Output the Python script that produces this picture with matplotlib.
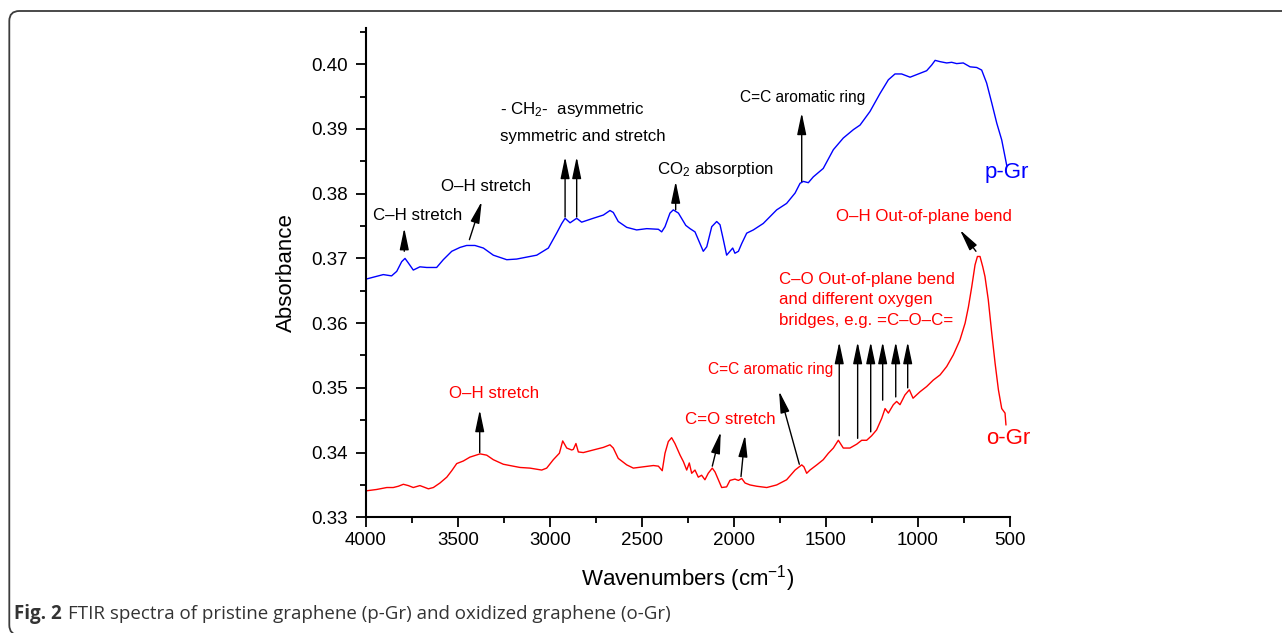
import numpy as np
import matplotlib
matplotlib.use("Agg")
import matplotlib.pyplot as plt
from matplotlib.patches import FancyBboxPatch
from matplotlib.ticker import MultipleLocator

plt.rcParams['font.family'] = ['Liberation Sans', 'DejaVu Sans']
plt.rcParams['mathtext.fontset'] = 'custom'
plt.rcParams['mathtext.rm'] = 'Liberation Sans'
plt.rcParams['mathtext.it'] = 'Liberation Sans:italic'

# pristine graphene (p-Gr) spectrum
p_gr_wn = [4000, 3960, 3906, 3861, 3833, 3806, 3788, 3770, 3743, 3707, 3670, 3616,
           3580, 3534, 3489, 3453, 3408, 3362, 3308, 3235, 3181, 3127, 3072, 3009,
           2964, 2936, 2918, 2891, 2855, 2828, 2765, 2710, 2674, 2656, 2629, 2583,
           2529, 2474, 2411, 2393, 2375, 2348, 2330, 2302, 2262, 2239, 2212, 2185,
           2167, 2148, 2121, 2094, 2076, 2058, 2040, 2022, 2007, 1995, 1976, 1958,
           1931, 1895, 1841, 1768, 1714, 1668, 1641, 1623, 1596, 1569, 1515, 1460,
           1406, 1351, 1315, 1261, 1206, 1161, 1125, 1089, 1043, 989, 953, 925,
           907, 880, 844, 817, 790, 754, 717, 681, 654, 627, 599, 572, 545, 527, 518]
p_gr_abs = [0.3668, 0.3671, 0.3675, 0.3673, 0.3680, 0.3695, 0.3700, 0.3693, 0.3682,
            0.3687, 0.3686, 0.3686, 0.3698, 0.3711, 0.3717, 0.3720, 0.3720, 0.3716,
            0.3705, 0.3698, 0.3699, 0.3702, 0.3705, 0.3716, 0.3739, 0.3754, 0.3762,
            0.3755, 0.3762, 0.3756, 0.3762, 0.3767, 0.3774, 0.3771, 0.3757, 0.3748,
            0.3744, 0.3746, 0.3745, 0.3741, 0.3749, 0.3770, 0.3775, 0.3770, 0.3751,
            0.3746, 0.3741, 0.3723, 0.3711, 0.3718, 0.3749, 0.3757, 0.3752, 0.3729,
            0.3705, 0.3711, 0.3716, 0.3708, 0.3711, 0.3723, 0.3739, 0.3744, 0.3754,
            0.3775, 0.3785, 0.3801, 0.3816, 0.3819, 0.3817, 0.3826, 0.3839, 0.3868,
            0.3886, 0.3899, 0.3906, 0.3927, 0.3955, 0.3976, 0.3985, 0.3985, 0.3980,
            0.3986, 0.3990, 0.3999, 0.4006, 0.4004, 0.4002, 0.4003, 0.4001, 0.4002,
            0.3996, 0.3995, 0.3991, 0.3971, 0.3940, 0.3909, 0.3883, 0.3857, 0.3844]

# oxidized graphene (o-Gr) spectrum
o_gr_wn = [3996, 3942, 3887, 3852, 3824, 3797, 3770, 3743, 3707, 3679, 3661, 3634,
           3598, 3561, 3534, 3507, 3471, 3435, 3380, 3344, 3308, 3254, 3200, 3163,
           3109, 3045, 3018, 2982, 2949, 2931, 2909, 2882, 2873, 2859, 2846, 2819,
           2765, 2710, 2674, 2656, 2629, 2583, 2547, 2493, 2438, 2411, 2390, 2375,
           2357, 2339, 2321, 2293, 2275, 2257, 2243, 2230, 2212, 2194, 2176, 2158,
           2140, 2118, 2103, 2085, 2067, 2040, 2022, 1995, 1976, 1958, 1940, 1913,
           1877, 1822, 1768, 1714, 1668, 1632, 1620, 1605, 1587, 1550, 1515, 1487,
           1460, 1433, 1406, 1370, 1333, 1306, 1279, 1252, 1225, 1197, 1179, 1161,
           1134, 1116, 1098, 1071, 1047, 1027, 989, 953, 917, 880, 844, 808, 772,
           744, 726, 708, 690, 677, 663, 648, 636, 618, 599, 581, 563, 545, 527, 522]
o_gr_abs = [0.3341, 0.3343, 0.3346, 0.3346, 0.3348, 0.3351, 0.3349, 0.3346, 0.3349,
            0.3346, 0.3344, 0.3346, 0.3353, 0.3362, 0.3372, 0.3383, 0.3387, 0.3393,
            0.3398, 0.3396, 0.3389, 0.3382, 0.3379, 0.3377, 0.3376, 0.3373, 0.3376,
            0.3389, 0.3399, 0.3418, 0.3407, 0.3404, 0.3405, 0.3414, 0.3401, 0.3400,
            0.3404, 0.3408, 0.3412, 0.3407, 0.3391, 0.3381, 0.3376, 0.3378, 0.3380,
            0.3379, 0.3372, 0.3399, 0.3417, 0.3423, 0.3414, 0.3396, 0.3386, 0.3373,
            0.3384, 0.3368, 0.3373, 0.3362, 0.3365, 0.3358, 0.3368, 0.3376, 0.3370,
            0.3358, 0.3346, 0.3347, 0.3357, 0.3359, 0.3357, 0.3360, 0.3353, 0.3350,
            0.3348, 0.3346, 0.3350, 0.3358, 0.3373, 0.3381, 0.3378, 0.3368, 0.3373,
            0.3381, 0.3389, 0.3399, 0.3407, 0.3419, 0.3407, 0.3407, 0.3413, 0.3419,
            0.3419, 0.3426, 0.3435, 0.3453, 0.3468, 0.3461, 0.3474, 0.3479, 0.3474,
            0.3489, 0.3497, 0.3484, 0.3494, 0.3502, 0.3512, 0.3520, 0.3533, 0.3551,
            0.3574, 0.3600, 0.3625, 0.3656, 0.3690, 0.3703, 0.3703, 0.3687, 0.3672,
            0.3636, 0.3584, 0.3538, 0.3497, 0.3468, 0.3461, 0.3443]

# band assignments: (text, text x, text y, [(tail x, tail y, head x, head y), ...])
black_notes = [
    ("C\u2013H stretch", 3962, 0.3767, [(3792, 0.3711, 3792, 0.3747)]),
    ("O\u2013H stretch", 3590, 0.3811, [(3438, 0.3729, 3371, 0.3788)]),
    ("CO$_2$ absorption", 2418, 0.3838, [(2317, 0.3775, 2317, 0.3819)]),
    ("C=C aromatic ring", 1967, 0.3948, [(1632, 0.3819, 1632, 0.3925)]),
]
red_notes = [
    ("O\u2013H stretch", 3549, 0.3492, [(3382, 0.3400, 3382, 0.3466)]),
    ("C=O stretch", 2266, 0.3451, [(2118, 0.3379, 2072, 0.3432),
                                   (1962, 0.3363, 1940, 0.3427)]),
    ("C=C aromatic ring", 2141, 0.3529, [(1645, 0.3382, 1755, 0.3495)]),
    ("O\u2013H Out-of-plane bend", 1446, 0.3764, [(685, 0.3711, 772, 0.3744)]),
]
ch2_lines = ["- CH$_2$-  asymmetric", "symmetric and stretch"]
ch2_arrow_x = [2918, 2855]
co_lines = ["C\u2013O Out-of-plane bend", "and different oxygen",
            "bridges, e.g. =C\u2013O\u2013C="]
co_arrow_x = [1428, 1328, 1257, 1192, 1121, 1056]
co_arrow_tail = [0.3426, 0.3422, 0.3432, 0.3481, 0.3486, 0.3500]

fig = plt.figure(figsize=(12.82, 6.33), dpi=100)
ax = fig.add_axes([366 / 1282, 1 - 517.3 / 633, 644 / 1282, 489.3 / 633])

ax.plot(p_gr_wn, p_gr_abs, color='#0000ff', lw=1.0)
ax.plot(o_gr_wn, o_gr_abs, color='#ff0000', lw=1.0)

ax.set_xlim(4000, 500)
ax.set_ylim(0.33, 0.4056)
ax.xaxis.set_major_locator(MultipleLocator(500))
ax.xaxis.set_minor_locator(MultipleLocator(250))
ax.yaxis.set_major_locator(MultipleLocator(0.01))
ax.yaxis.set_minor_locator(MultipleLocator(0.005))
ax.yaxis.set_major_formatter(matplotlib.ticker.FormatStrFormatter('%.2f'))
for s in ['top', 'right']:
    ax.spines[s].set_visible(False)
for s in ['left', 'bottom']:
    ax.spines[s].set_linewidth(1.5)
ax.tick_params(which='major', direction='out', length=7, width=1.3, labelsize=13.5)
ax.tick_params(axis='y', which='major', pad=6)
ax.tick_params(which='minor', direction='out', length=4, width=1.3)
ax.set_xlabel("Wavenumbers (cm$^{-1}$)", fontsize=16, labelpad=10)
ax.set_ylabel("Absorbance", fontsize=16, labelpad=10)

arrow = dict(arrowstyle='-|>,head_length=1.1,head_width=0.23', color='black',
             lw=1.0, shrinkA=0, shrinkB=0, mutation_scale=12)


def add_arrow(x0, y0, x1, y1):
    ax.annotate("", xy=(x1, y1), xytext=(x0, y0), arrowprops=arrow,
                annotation_clip=False)


for txt, tx, ty, arrows in black_notes:
    size = 11.2 if "aromatic" in txt else 12.2
    ax.text(tx, ty, txt, color='black', fontsize=size, ha='left', va='center')
    for a in arrows:
        add_arrow(*a)
for txt, tx, ty, arrows in red_notes:
    size = 11.2 if "aromatic" in txt else 12.2
    ax.text(tx, ty, txt, color='#ff0000', fontsize=size, ha='left', va='center')
    for a in arrows:
        add_arrow(*a)

ax.text(3272, 0.3930, ch2_lines[0], fontsize=12.2, ha='left', va='center')
ax.text(3272, 0.3889, ch2_lines[1], fontsize=12.2, ha='left', va='center')
for x in ch2_arrow_x:
    add_arrow(x, 0.3764, x, 0.3857)

for i, line in enumerate(co_lines):
    ax.text(1755, 0.3668 - i * 0.0032, line, color='#ff0000', fontsize=12.2,
            ha='left', va='center')
for x, t in zip(co_arrow_x, co_arrow_tail):
    add_arrow(x, t, x, 0.3571)

ax.text(636, 0.3832, "p-Gr", color='#0000ff', fontsize=16, ha='left',
        va='center', clip_on=False)
ax.text(630, 0.3422, "o-Gr", color='#ff0000', fontsize=16, ha='left',
        va='center', clip_on=False)

# rounded frame around the figure
frame = FancyBboxPatch((0.093, -0.02), 13.0, 6.22 + 0.02,
                       boxstyle='round,pad=0,rounding_size=0.1',
                       transform=fig.dpi_scale_trans, fill=False,
                       ec='#3c3c3c', lw=1.3)
fig.add_artist(frame)

cap_y = 1 - 614 / 633
t1 = fig.text(14 / 1282, cap_y, "Fig. 2", fontsize=13.5, fontweight='bold',
              family='Open Sans', color='#333333', va='center')
fig.canvas.draw()
bb = t1.get_window_extent()
fig.text((bb.x1 + 6) / 1282, cap_y,
         "FTIR spectra of pristine graphene (p-Gr) and oxidized graphene (o-Gr)",
         fontsize=13.5, family='Open Sans', color='#333333', va='center')

fig.savefig("out.png", dpi=100)
